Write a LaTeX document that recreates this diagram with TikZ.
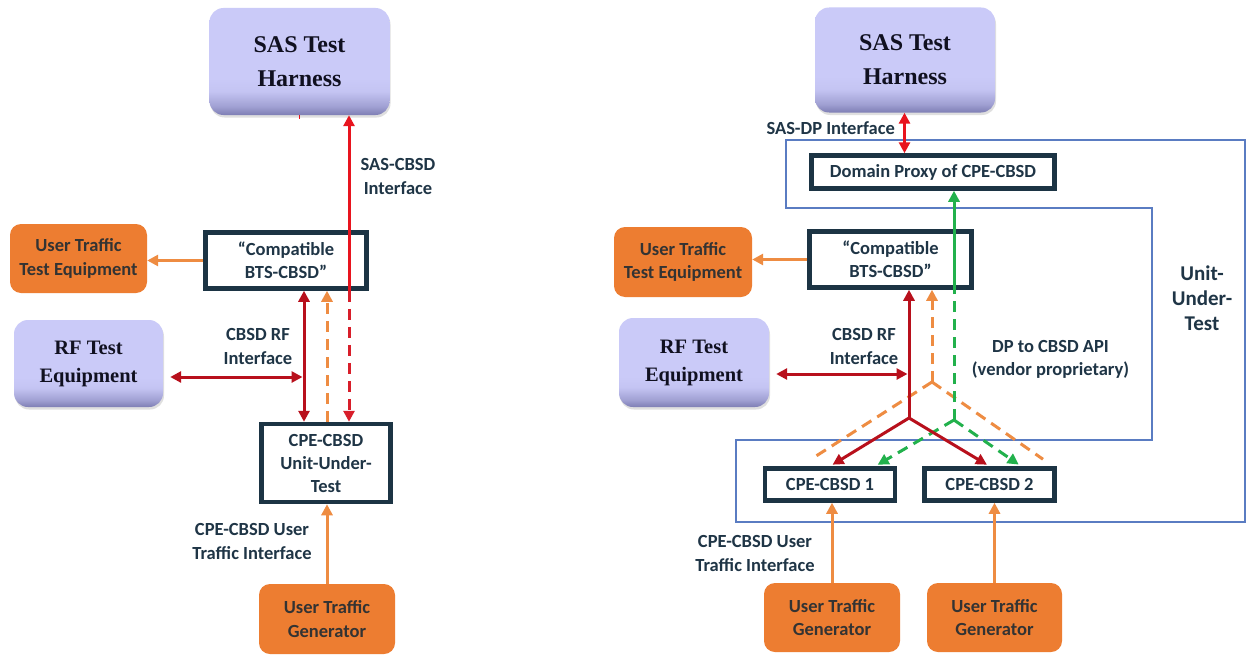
\documentclass[tikz,border=0pt]{standalone}
\usepackage{fontspec}
\setmainfont{Liberation Serif}
\newfontfamily\lab{Carlito}
\usetikzlibrary{arrows.meta,calc,shadows}

\definecolor{navy}{HTML}{1C3444}
\definecolor{labink}{HTML}{1F3546}
\definecolor{oink}{HTML}{333333}
\definecolor{orangeF}{HTML}{ED7D31}
\definecolor{orL}{HTML}{EE8C42}
\definecolor{redB}{HTML}{E8141E}
\definecolor{redS}{HTML}{D81E2A}
\definecolor{redD}{HTML}{B8101C}
\definecolor{grA}{HTML}{22B14C}
\definecolor{uutline}{HTML}{5A7CC2}
\definecolor{lavtop}{HTML}{CACAF8}
\definecolor{lavbot}{HTML}{7E7EB4}
\definecolor{serifink}{HTML}{101020}

% flat lavender body that darkens only along its lower edge
\pgfdeclareverticalshading{lavshade}{100bp}{%
  color(0bp)=(lavbot); color(25bp)=(lavbot);
  color(29bp)=(lavbot!55!lavtop); color(36bp)=(lavtop!92!lavbot);
  color(42bp)=(lavtop); color(100bp)=(lavtop)}

\begin{document}
\begin{tikzpicture}[x=1pt,y=-1pt,
  >={Triangle[length=11pt,width=11pt]},
  lavbox/.style={rounded corners=14pt, draw=none, shading=lavshade,
    drop shadow={opacity=0.25, shadow xshift=1pt, shadow yshift=-2.5pt},
    text=serifink, align=center, inner sep=0pt},
  orangebox/.style={rounded corners=11pt, fill=orangeF, draw=none,
    text=oink, font=\lab\bfseries\fontsize{18.5}{23.5}\selectfont,
    align=center, inner sep=0pt},
  tbox/.style={draw=navy, line width=4.5pt, fill=white, text=labink,
    font=\lab\bfseries\fontsize{18.5}{23}\selectfont, align=center, inner sep=0pt},
  lbl/.style={text=labink, font=\lab\bfseries\fontsize{18.5}{23.5}\selectfont,
    align=center, inner sep=0pt},
  wire/.style={line width=3pt},
  dashpat/.style={dash pattern=on 11pt off 7pt},
  uut/.style={draw=uutline, line width=1.4pt},
]
\fill[white] (0,0) rectangle (1247,661);
\useasboundingbox (0,0) rectangle (1247,661);

% ---------------- left: single CPE-CBSD set-up ----------------
\node[lavbox, minimum width=180pt, minimum height=107pt,
  font=\bfseries\fontsize{24}{34}\selectfont] (sasL) at (299.5,61.5) {SAS Test\\Harness};
\node[tbox, minimum width=161pt, minimum height=56pt] (compL) at (286,260.5) {“Compatible\\BTS-CBSD”};
\node[orangebox, minimum width=137pt, minimum height=69pt] (uttL) at (78.5,258.5) {User Traffic\\Test Equipment};
\node[lavbox, minimum width=149pt, minimum height=87pt,
  font=\bfseries\fontsize{20.5}{28}\selectfont] (rfL) at (88.5,363.5) {RF Test\\Equipment};
\node[tbox, minimum width=129pt, minimum height=78pt] (cpeL) at (326,463) {CPE-CBSD\\Unit-Under-\\Test};
\node[orangebox, minimum width=136pt, minimum height=70pt] (utgL) at (327,619) {User Traffic\\Generator};

\node[lbl] (lblSasCbsd) at (398,176.5) {SAS-CBSD\\Interface};
\node[lbl] (lblRfL) at (258,346.5) {CBSD RF\\Interface};
\node[lbl] (lblUtiL) at (252,541.5) {CPE-CBSD User\\Traffic Interface};

\coordinate (rfHitL) at (304,377);
\draw[wire, orL, ->] (compL.west) -- (compL.west -| uttL.east);
\draw[wire, redD, <->, shorten <=7pt, shorten >=1.5pt] (rfL.east |- rfHitL) -- (rfHitL);
\draw[wire, redD, <->] (304,0 |- compL.south) -- (304,0 |- cpeL.north);
\draw[wire, orL, dashpat, ->] (327,0 |- cpeL.north) -- (327,0 |- compL.south);
\draw[wire, redS, dashpat, ->] (349,0 |- compL.south) -- (349,0 |- cpeL.north);
\draw[wire, redB, ->] (349,0 |- compL.south) -- (349,0 |- sasL.south);
\draw[redB, line width=1.5pt] (sasL.south) -- ++(0,4);
\draw[wire, orL, ->] (utgL.north) -- (utgL.north |- cpeL.south);

% ---------------- right: domain proxy set-up ----------------
\draw[uut] (786,140) -- (1245,140) -- (1245,522) -- (736,522) -- (736,440)
  -- (1152,440) -- (1152,208) -- (786,208) -- cycle;

\node[lavbox, minimum width=180pt, minimum height=105pt,
  font=\bfseries\fontsize{24}{34}\selectfont] (sasR) at (905,60) {SAS Test\\Harness};
\node[tbox, minimum width=243pt, minimum height=33pt] (dp) at (933,172) {Domain Proxy of CPE-CBSD};
\node[tbox, minimum width=162pt, minimum height=56pt] (compR) at (890.5,259.5) {“Compatible\\BTS-CBSD”};
\node[orangebox, minimum width=138pt, minimum height=70pt] (uttR) at (683,262) {User Traffic\\Test Equipment};
\node[lavbox, minimum width=150pt, minimum height=89pt,
  font=\bfseries\fontsize{20.5}{28}\selectfont] (rfR) at (694,362.5) {RF Test\\Equipment};
\node[tbox, minimum width=130pt, minimum height=32pt] (cpe1) at (830,484.5) {CPE-CBSD 1};
\node[tbox, minimum width=130pt, minimum height=32pt] (cpe2) at (989.5,484.5) {CPE-CBSD 2};
\node[orangebox, minimum width=136pt, minimum height=69pt] (utg1) at (832,617.5) {User Traffic\\Generator};
\node[orangebox, minimum width=135pt, minimum height=69pt] (utg2) at (994.5,617.5) {User Traffic\\Generator};

\node[lbl, anchor=east] (lblSasDp) at (895,128) {SAS-DP Interface};
\node[lbl] (lblRfR) at (864,346.5) {CBSD RF\\Interface};
\node[lbl] (lblApi) at (1050.5,359.5) {DP to CBSD API\\(vendor proprietary)};
\node[lbl, font=\lab\bfseries\fontsize{21}{25}\selectfont] (lblUut) at (1202,298) {Unit-\\Under-\\Test};
\node[lbl] (lblUtiR) at (755,553.5) {CPE-CBSD User\\Traffic Interface};

\coordinate (yR) at (909,418);
\coordinate (gR) at (954,420);
\coordinate (oR) at (932,382);
\coordinate (rfHitR) at (909,374);

\draw[wire, redB, <->] (904.5,0 |- sasR.south) -- (904.5,0 |- dp.north);
\draw[wire, orL, ->] (compR.west) -- (compR.west -| uttR.east);
\draw[wire, redD, <->, shorten <=7pt, shorten >=1.5pt] (rfR.east |- rfHitR) -- (rfHitR);

% orange user-traffic paths
\draw[wire, orL, dashpat, ->] (oR) -- (932,0 |- compR.south);
\draw[wire, orL, dashpat] (oR) -- ($(cpe1.north)+(-19,-7)$);
\draw[wire, orL, dashpat] (oR) -- ($(cpe2.north)+(53.5,-7)$);

% green DP-to-CBSD API paths
\draw[wire, grA, ->] (954,0 |- compR.south) -- (954,0 |- dp.south);
\draw[wire, grA, dashpat] (gR) -- (954,0 |- compR.south);
\draw[wire, grA, dashpat, ->, shorten >=3pt] (gR) -- ($(cpe1.north)!0.67!(cpe1.north east)$);
\draw[wire, grA, dashpat, ->, shorten >=3pt] (gR) -- ($(cpe2.north)!0.47!(cpe2.north east)$);

% dark red RF paths
\draw[wire, redD, ->] (yR) -- (yR |- compR.south);
\draw[wire, redD, ->, shorten >=3pt] (yR) -- (cpe1.north);
\draw[wire, redD, ->, shorten >=3pt] (yR) -- (cpe2.north);

\draw[wire, orL, ->] (utg1.north) -- (utg1.north |- cpe1.south);
\draw[wire, orL, ->] (utg2.north) -- (utg2.north |- cpe2.south);
\end{tikzpicture}
\end{document}
